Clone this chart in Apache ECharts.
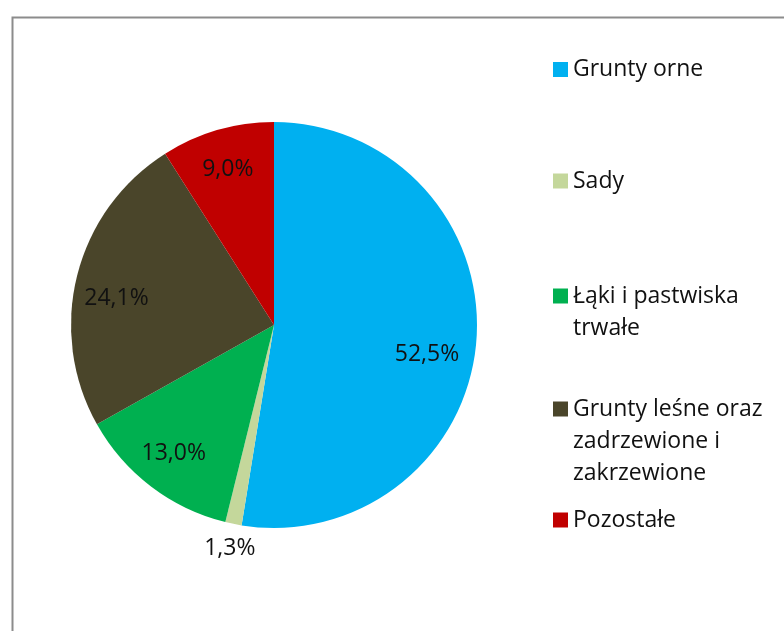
<!DOCTYPE html>
<html>
<head>
<meta charset="utf-8">
<script src="https://cdn.jsdelivr.net/npm/echarts@6/dist/echarts.min.js"></script>
<style>
html,body{margin:0;padding:0;background:#fff;}
#chart{width:784px;height:631px;}
</style>
</head>
<body>
<div id="chart"></div>
<script>
// Data
var categories = ['Grunty orne', 'Sady', 'Łąki i pastwiska trwałe', 'Grunty leśne oraz zadrzewione i zakrzewione', 'Pozostałe'];
var values = [52.5, 1.3, 13.0, 24.1, 9.0];
var colors = ['#00B0F0', '#C4D79B', '#00B050', '#4A452A', '#C00000'];
var legendLabels = ['Grunty orne', 'Sady', 'Łąki i pastwiska\ntrwałe', 'Grunty leśne oraz\nzadrzewione i\nzakrzewione', 'Pozostałe'];

var FONT = 'Open Sans';
var FSIZE = 23;
var LINE_H = 32;
var legendTops = [53.5, 165, 280, 393, 504];
// small label nudges to mimic the original "best fit" placement
var labelNudge = [[-12, 16], [0, 0], [0, -3], [3, 14], [0, 3]];

function fmtPct(v) { return v.toFixed(1).replace('.', ',') + '%'; }

var mainData = categories.map(function (c, i) {
  var d = { name: c, value: values[i], itemStyle: { color: colors[i] } };
  if (i === 1) {
    d.label = {
      show: true, position: 'outside', distanceToLabelLine: -27,
      formatter: function (p) { return fmtPct(p.value); },
      fontFamily: FONT, fontSize: FSIZE, color: '#111'
    };
    d.labelLine = { show: false, length: 25, length2: 0 };
  }
  return d;
});

var overlayData = categories.map(function (c, i) {
  return { name: c, value: values[i], label: { show: i !== 1, offset: labelNudge[i] } };
});

var legends = categories.map(function (c, i) {
  var lines = legendLabels[i].split('\n').length;
  var prefix = new Array(lines).join('\n'); // n-1 blank lines so icon sits at the first text line
  return {
    data: [c],
    orient: 'vertical',
    left: 553,
    top: legendTops[i] - (lines - 1) * LINE_H,
    padding: 0,
    icon: 'rect',
    itemWidth: 15,
    itemHeight: 15,
    selectedMode: false,
    formatter: function () { return prefix + legendLabels[i]; },
    textStyle: { fontFamily: FONT, fontSize: FSIZE, color: '#111', lineHeight: LINE_H }
  };
});

var chart = echarts.init(document.getElementById('chart'), null, { renderer: 'canvas' });
chart.setOption({
  backgroundColor: '#fff',
  animation: false,
  graphic: [{
    type: 'rect', left: 10, top: 15,
    shape: { width: 800, height: 700 },
    style: { fill: 'none', stroke: '#8c8c8c', lineWidth: 2 },
    silent: true
  }],
  legend: legends,
  series: [{
    type: 'pie',
    center: [274, 325],
    radius: [0, 203],
    startAngle: 90,
    clockwise: true,
    avoidLabelOverlap: false,
    itemStyle: { borderWidth: 0 },
    label: { show: false },
    labelLine: { show: false },
    emphasis: { disabled: true },
    data: mainData
  }, {
    type: 'pie',
    center: [274, 325],
    radius: [122, 203],
    startAngle: 90,
    clockwise: true,
    silent: true,
    avoidLabelOverlap: false,
    itemStyle: { color: 'rgba(0,0,0,0)', borderWidth: 0 },
    label: {
      show: true, position: 'inside',
      formatter: function (p) { return fmtPct(p.value); },
      fontFamily: FONT, fontSize: FSIZE, color: '#111'
    },
    labelLine: { show: false },
    emphasis: { disabled: true },
    data: overlayData
  }]
});
</script>
</body>
</html>
